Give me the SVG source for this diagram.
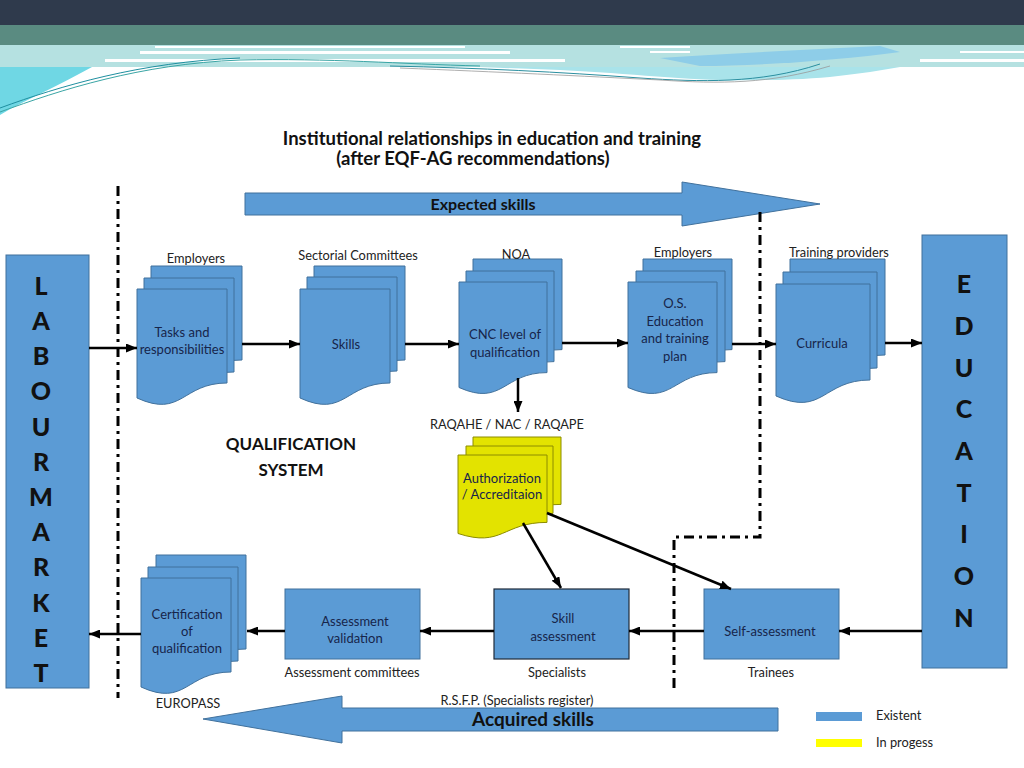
<svg xmlns="http://www.w3.org/2000/svg" width="1024" height="768" viewBox="0 0 1024 768">
<style>
.doc{fill:#5b9bd5;stroke:#41719c;stroke-width:1}
.ydoc{fill:#e3e300;stroke:#8c8c00;stroke-width:1}
.box{fill:#5b9bd5;stroke:#41719c;stroke-width:1}
.t{font-family:Lato,"Open Sans","Liberation Sans",sans-serif;font-size:13px;fill:#17254a;text-anchor:middle}
.l{font-family:Lato,"Open Sans","Liberation Sans",sans-serif;font-size:12.8px;fill:#222;text-anchor:middle}
.big{font-family:Lato,"Open Sans","Liberation Sans",sans-serif;font-size:25px;font-weight:900;fill:#111;text-anchor:middle}
.h{font-family:Lato,"Open Sans","Liberation Sans",sans-serif;font-weight:bold;fill:#111;text-anchor:middle}
.c{fill:none;stroke:#000;stroke-width:2.5}
.dd{fill:none;stroke:#000;stroke-width:3;stroke-dasharray:10 5 3 5}
</style>
<defs>
<marker id="ah" markerUnits="userSpaceOnUse" markerWidth="11" markerHeight="9" refX="11" refY="4.5" orient="auto">
<path d="M0,0 L11,4.5 L0,9 Z" fill="#000"/>
</marker>
</defs>
<rect width="1024" height="768" fill="#fff"/>
<g id="header">
<rect x="0" y="0" width="1024" height="25" fill="#2f3a4c"/>
<rect x="0" y="25" width="1024" height="20" fill="#5a8b81"/>
<rect x="0" y="45" width="1024" height="22" fill="#b5e1e1"/>
<rect x="155" y="46" width="310" height="2" fill="#fff"/>
<rect x="620" y="46" width="70" height="2" fill="#fff"/>
<rect x="140" y="51" width="370" height="3" fill="#fff"/>
<rect x="650" y="51" width="40" height="2" fill="#fff"/>
<rect x="960" y="51" width="64" height="2" fill="#fff"/>
<rect x="105" y="59" width="460" height="3" fill="#fff"/>
<rect x="720" y="59" width="80" height="2" fill="#fff"/>
<rect x="920" y="59" width="104" height="3" fill="#fff"/>
<path d="M660,58 C720,54 800,50 880,46 L900,52 C840,60 760,66 700,66 Z" fill="#8ecde8"/>
<path d="M0,67 L92,67 C60,85 25,100 0,115 Z" fill="#6fd7e4"/>
<path d="M480,67 L900,67 C860,74 820,80 760,80 C700,82 640,74 560,70 Z" fill="#a9e3ea"/>
<path d="M0,112 C60,90 140,64 240,60 C330,58 400,64 480,66" fill="none" stroke="#3aa5a5" stroke-width="1"/>
<path d="M0,108 C60,86 140,62 240,58" fill="none" stroke="#1f8fa0" stroke-width="1"/>
<path d="M390,66 C480,68 560,72 640,78 C700,82 760,84 820,64" fill="none" stroke="#2b8fa0" stroke-width="1"/>
<path d="M400,68 C500,72 580,76 660,80 C720,84 770,84 830,66" fill="none" stroke="#999" stroke-width="0.8"/>
</g>
<g id="title">
<text class="h" x="492" y="145" font-size="18.5">Institutional relationships in education and training</text>
<text class="h" x="473" y="165" font-size="18.5">(after EQF-AG recommendations)</text>
</g>
<g id="expected-skills">
<path d="M245,193 H682 V182 L820,204 L682,226 V215 H245 Z" fill="#5b9bd5" stroke="#41719c" stroke-width="1"/>
<text class="h" x="483" y="210" font-size="16">Expected skills</text>
</g>
<g id="acquired-skills">
<path d="M778,708 H342 V696 L203,719 L342,743 V731 H778 Z" fill="#5b9bd5" stroke="#41719c" stroke-width="1"/>
<text class="h" x="533" y="726" font-size="19">Acquired skills</text>
<text class="l" x="517" y="705">R.S.F.P. (Specialists register)</text>
</g>
<g id="boundaries">
<path class="dd" d="M118,186 V698"/>
<path class="dd" d="M760,212 V537 H674 V692"/>
</g>
<g id="labour-market">
<rect class="box" x="6" y="255" width="83" height="433"/>
<text class="big" x="41" y="295">L</text>
<text class="big" x="41" y="330">A</text>
<text class="big" x="41" y="365">B</text>
<text class="big" x="41" y="400">O</text>
<text class="big" x="41" y="436">U</text>
<text class="big" x="41" y="471">R</text>
<text class="big" x="41" y="506">M</text>
<text class="big" x="41" y="541">A</text>
<text class="big" x="41" y="576">R</text>
<text class="big" x="41" y="612">K</text>
<text class="big" x="41" y="647">E</text>
<text class="big" x="41" y="682">T</text>
</g>
<g id="education">
<rect class="box" x="922" y="235" width="85" height="433"/>
<text class="big" x="964" y="293">E</text>
<text class="big" x="964" y="335">D</text>
<text class="big" x="964" y="377">U</text>
<text class="big" x="964" y="418">C</text>
<text class="big" x="964" y="460">A</text>
<text class="big" x="964" y="502">T</text>
<text class="big" x="964" y="543">I</text>
<text class="big" x="964" y="585">O</text>
<text class="big" x="964" y="627">N</text>
</g>
<g id="tasks">
<path class="doc" d="M151,266 H242 V360 C196.5,360 196.5,395 151,375 Z"/>
<path class="doc" d="M144,278 H234 V372 C189,372 189,407 144,387 Z"/>
<path class="doc" d="M137,289 H227 V383 C182,383 182,418.5 137,398 Z"/>
<text class="l" x="196" y="263">Employers</text>
<text class="t" x="182" y="337">Tasks and</text>
<text class="t" x="182" y="354">responsibilities</text>
</g>
<g id="skills">
<path class="doc" d="M314,266 H405 V360 C359.5,360 359.5,395 314,375 Z"/>
<path class="doc" d="M307,277 H397 V371 C352,371 352,406.5 307,386 Z"/>
<path class="doc" d="M300,289 H390 V383 C345,383 345,418.5 300,398 Z"/>
<text class="l" x="358" y="260">Sectorial Committees</text>
<text class="t" x="346" y="349">Skills</text>
</g>
<g id="cnc">
<path class="doc" d="M473,259 H562 V349.6 C517.5,349.6 517.5,384 473,364.5 Z"/>
<path class="doc" d="M466,271 H554 V361.6 C510,361.6 510,396 466,376.5 Z"/>
<path class="doc" d="M459,282 H547 V372.6 C503,372.6 503,407 459,387.5 Z"/>
<text class="l" x="516" y="259">NOA</text>
<text class="t" x="505" y="339">CNC level of</text>
<text class="t" x="505" y="357">qualification</text>
</g>
<g id="os-plan">
<path class="doc" d="M643,259 H732 V349.6 C687.5,349.6 687.5,384 643,364.5 Z"/>
<path class="doc" d="M636,271 H725 V361.6 C680.5,361.6 680.5,396 636,376.5 Z"/>
<path class="doc" d="M628,282 H717 V372.6 C672.5,372.6 672.5,407 628,387.5 Z"/>
<text class="l" x="683" y="257">Employers</text>
<text class="t" x="675" y="308">O.S.</text>
<text class="t" x="675" y="326">Education</text>
<text class="t" x="675" y="343">and training</text>
<text class="t" x="675" y="361">plan</text>
</g>
<g id="curricula">
<path class="doc" d="M790,259 H885 V355 C837.5,355 837.5,392 790,371 Z"/>
<path class="doc" d="M783,272 H877 V368 C830,368 830,405 783,384 Z"/>
<path class="doc" d="M776,284 H870 V380 C823,380 823,417 776,396 Z"/>
<text class="l" x="839" y="257">Training providers</text>
<text class="t" x="822" y="348">Curricula</text>
</g>
<g id="authorization">
<path class="ydoc" d="M473,437 H561 V504.4 C517,504.4 517,530 473,515.5 Z"/>
<path class="ydoc" d="M466,446 H553 V513.4 C509.5,513.4 509.5,539 466,524.5 Z"/>
<path class="ydoc" d="M458,455 H547 V522.4 C502.5,522.4 502.5,548 458,533.5 Z"/>
<text class="l" x="507" y="429">RAQAHE / NAC / RAQAPE</text>
<text class="t" x="502" y="483">Authorization</text>
<text class="t" x="502" y="499">/ Accreditaion</text>
</g>
<g id="qualification-system">
<text class="h" x="291" y="450" font-size="17">QUALIFICATION</text>
<text class="h" x="291" y="476" font-size="17">SYSTEM</text>
</g>
<g id="skill-assessment">
<rect x="494" y="589" width="135" height="70" fill="#5b9bd5" stroke="#1e2a3a" stroke-width="1.2"/>
<text class="t" x="563" y="623">Skill</text>
<text class="t" x="563" y="641">assessment</text>
<text class="l" x="557" y="677">Specialists</text>
</g>
<g id="self-assessment">
<rect class="box" x="704" y="589" width="135" height="70"/>
<text class="t" x="770" y="636">Self-assessment</text>
<text class="l" x="771" y="677">Trainees</text>
</g>
<g id="assessment-validation">
<rect class="box" x="285" y="589" width="135" height="70"/>
<text class="t" x="355" y="626">Assessment</text>
<text class="t" x="355" y="643">validation</text>
<text class="l" x="352" y="677">Assessment committees</text>
</g>
<g id="certification">
<path class="doc" d="M156,555 H246 V649 C201,649 201,684.5 156,664 Z"/>
<path class="doc" d="M148,567 H238 V661 C193,661 193,696.5 148,676 Z"/>
<path class="doc" d="M141,578 H231 V672 C186,672 186,707.5 141,687 Z"/>
<text class="t" x="187" y="619">Certification</text>
<text class="t" x="187" y="636">of</text>
<text class="t" x="187" y="653">qualification</text>
<text class="l" x="188" y="708">EUROPASS</text>
</g>
<g id="legend">
<rect x="816" y="712" width="46" height="9" fill="#5b9bd5"/>
<rect x="816" y="739" width="46" height="8" fill="#ffff00"/>
<text class="l" x="876" y="720" font-size="11" style="text-anchor:start">Existent</text>
<text class="l" x="876" y="747" font-size="11" style="text-anchor:start">In progess</text>
</g>
<g id="connectors">
<path class="c" d="M89,348 H137" marker-end="url(#ah)"/>
<path class="c" d="M242,344 H300" marker-end="url(#ah)"/>
<path class="c" d="M405,344 H459" marker-end="url(#ah)"/>
<path class="c" d="M562,343 H628" marker-end="url(#ah)"/>
<path class="c" d="M732,344 H776" marker-end="url(#ah)"/>
<path class="c" d="M885,343 H922" marker-end="url(#ah)"/>
<path class="c" d="M518,378 V412" marker-end="url(#ah)"/>
<path class="c" d="M523,523 L561,588" marker-end="url(#ah)"/>
<path class="c" d="M547,513 L731,589" marker-end="url(#ah)"/>
<path class="c" d="M922,631 H839" marker-end="url(#ah)"/>
<path class="c" d="M704,631 H629" marker-end="url(#ah)"/>
<path class="c" d="M494,631 H420" marker-end="url(#ah)"/>
<path class="c" d="M285,631 H247" marker-end="url(#ah)"/>
<path class="c" d="M141,634 H89" marker-end="url(#ah)"/>
</g>
</svg>
